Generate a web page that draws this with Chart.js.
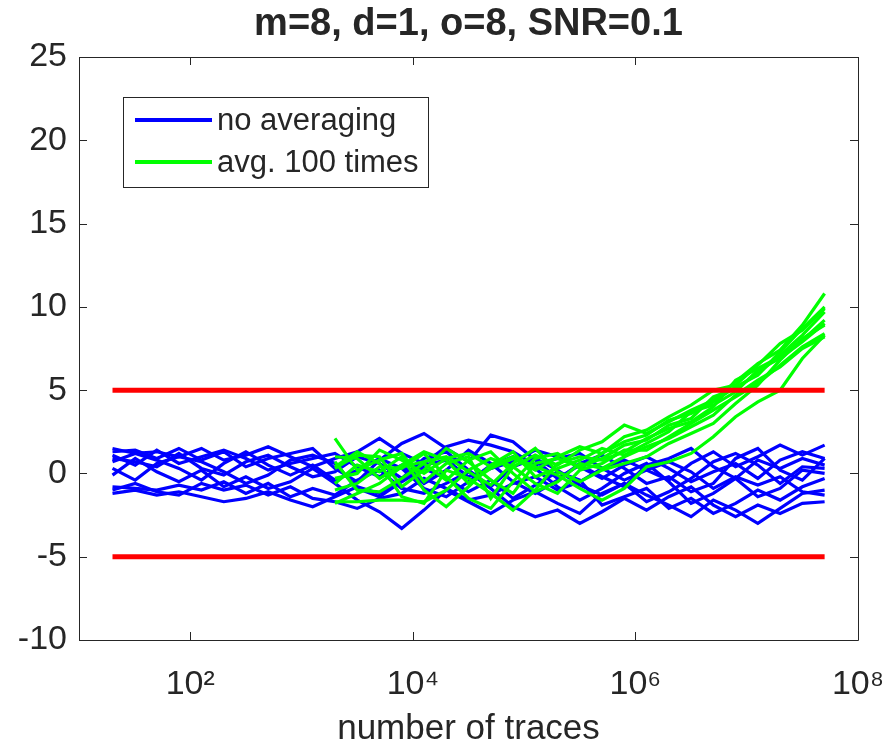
<!DOCTYPE html>
<html>
<head>
<meta charset="utf-8">
<script src="https://cdn.jsdelivr.net/npm/chart.js@4.4.1/dist/chart.umd.min.js"></script>
<style>
  html, body { margin: 0; padding: 0; background: #ffffff; }
  #wrap { width: 889px; height: 750px; }
</style>
</head>
<body>
<div id="wrap"><canvas id="c" width="889" height="750"></canvas></div>
<script>
// ---------- data ----------
const chartTitle = 'm=8, d=1, o=8, SNR=0.1';
const xAxisTitle = 'number of traces';
const legendLabels = ['no averaging', 'avg. 100 times'];

const xTickValues = [1e2, 1e4, 1e6, 1e8];
const xTickLabels = ['10\u00B2', '10\u2074', '10\u2076', '10\u2078'];
const yTickStep = 5;

// number of traces (x) for the non-averaged runs
const traces = [20, 32, 50, 79, 126, 200, 316, 501, 794, 1259, 1995, 3162, 5012, 7943,
  12589, 19953, 31623, 50119, 79433, 125893, 199526, 316228, 501187, 794328, 1258925,
  1995262, 3162278, 5011872, 7943282, 12589254, 19952623, 31622777, 50118723];
// number of traces (x) for the averaged runs
const avgTraces = [1995, 3162, 5012, 7943, 12589, 19953, 31623, 50119, 79433, 125893,
  199526, 316228, 501187, 794328, 1258925, 1995262, 3162278, 5011872, 7943282, 12589254,
  19952623, 31622777, 50118723];

// no averaging (blue)
const blue1  = [1.5, 1.2, 1.3, 1.0, 1.5, 0.8, 1.1, 1.6, 1.0, 0.4, 0.9, 1.3, 2.1, 1.2, 0.6, 1.6, 2.0, 1.7, 1.3, 0.5, 0.9, 1.2, 0.3, 0.8, 0.2, -0.4, 0.6, 1.3, 0.4, 1.0, 1.7, 1.1, 1.7];
const blue2  = [1.3, 1.4, 0.9, 1.5, 0.8, 1.3, 0.4, 0.9, 1.2, 1.5, 0.3, -0.5, 0.8, 1.8, 2.4, 1.5, 0.7, 2.3, 1.9, 0.8, -0.3, 0.5, -0.2, -0.8, 0.5, 0.9, 1.5, 0.4, -0.3, 0.8, 0.3, 0.9, 0.5];
const blue3  = [1.1, 0.5, 1.4, 0.6, 1.0, 1.4, 0.9, 0.2, 0.6, 0.9, 1.2, 0.4, -0.2, 0.5, -0.6, 0.2, 1.4, 0.6, -0.5, -1.2, -0.4, 0.6, 1.1, 0.3, -0.6, -0.2, -1.1, -0.6, 0.9, 1.5, 0.2, -0.4, 0.9];
const blue4  = [0.9, 0.7, 0.4, 1.2, 0.3, -0.1, 0.7, 1.1, 0.4, -0.2, 0.1, 1.0, 0.6, -0.3, 0.9, 1.3, 0.2, -0.8, 0.4, 0.9, 0.2, -0.7, -1.3, -0.6, -1.7, -1.1, -0.3, 0.7, 1.2, 0.5, -0.6, 0.4, 0.3];
const blue5  = [0.7, 1.2, 0.8, 0.3, -0.4, 0.6, 1.3, 0.5, -0.1, 0.5, -0.4, 0.2, 0.9, 0.3, -0.9, -1.4, -0.5, 0.5, 1.0, 0.3, -0.8, -1.6, -0.9, 0.0, 0.6, -0.5, -1.8, -1.2, -0.3, -1.4, -0.9, 0.2, 0.0];
const blue6  = [0.3, -0.4, 0.6, 1.0, 0.7, 0.1, -0.6, -0.1, 0.8, 1.1, 0.6, -0.9, -1.4, -0.5, 0.3, -0.3, -1.1, -0.4, -1.5, -0.7, 0.1, -0.4, -1.9, -1.4, -0.9, -2.1, -1.5, -2.4, -1.8, -1.0, -1.6, -0.8, -0.3];
const blue7  = [-0.1, 0.9, 0.1, -0.5, 0.2, -0.8, -0.2, -0.9, -0.5, 0.3, -0.6, -1.6, -2.3, -3.3, -2.2, -1.0, -1.7, -2.4, -1.6, -1.1, -1.8, -2.4, -1.2, -0.6, -1.3, -1.9, -2.6, -1.6, -2.2, -3.0, -2.1, -1.2, -1.0];
const blue8  = [-0.8, -0.9, -1.0, -0.7, -1.0, -0.5, -1.2, -0.6, -1.4, -0.9, -1.3, -0.4, 0.2, -0.9, -1.2, -0.6, 0.1, -0.9, -2.0, -2.6, -2.2, -3.0, -2.3, -1.5, -2.2, -1.4, -0.8, -1.9, -2.6, -1.9, -2.4, -1.8, -1.7];
const blue9  = [-1.0, -0.6, -1.1, -1.3, -0.6, -1.0, -0.7, -1.3, -0.8, -1.5, -1.7, -2.1, -1.5, -1.2, -0.3, -0.9, -1.6, -1.3, -0.6, -0.2, -1.0, -0.5, 0.3, -0.4, 0.2, 0.7, 0.1, -0.9, -0.2, -0.7, -0.2, -1.1, -1.3];
const blue10 = [-1.2, -1.0, -1.3, -1.1, -1.4, -1.7, -1.5, -1.1, -1.6, -2.0, -1.4, -0.8, -1.2, -0.4, 0.5, 0.8, -0.2, 0.3, 0.7, 1.4, 1.0, 0.4, -0.3, 0.5, 1.0, 0.3, -0.5, 0.1, 0.6, -0.3, 0.8, 1.3, 0.9];

// averaged 100 times (green)
const green1  = [2.1, 0.2, 0.8, 1.2, -0.5, 0.6, 1.0, -1.5, 0.4, 1.1, 0.5, 1.4, 1.9, 2.9, 2.4, 3.1, 3.8, 4.4, 5.5, 6.6, 7.4, 8.9, 10.8];
const green2  = [1.0, 0.9, -0.3, 0.5, 1.3, 0.8, -0.6, 0.3, 0.9, 0.2, 1.0, 1.6, 1.2, 2.2, 2.6, 3.4, 4.1, 5.0, 5.3, 6.5, 7.8, 8.6, 9.9];
const green3  = [0.3, 1.1, 1.0, -0.8, 0.2, 1.5, 0.7, -0.4, -1.2, 0.6, 0.9, 0.4, 0.9, 1.7, 2.0, 2.9, 3.3, 4.6, 5.1, 6.0, 7.1, 8.3, 9.7];
const green4  = [-0.6, 0.5, 0.1, 1.0, -1.0, -2.0, -0.8, 0.5, 1.3, -0.2, 0.3, 0.8, 1.5, 1.1, 1.8, 2.5, 3.7, 4.1, 4.9, 6.2, 6.9, 7.9, 9.0];
const green5  = [-1.7, -1.7, -1.6, -1.6, -1.7, -1.0, 0.2, 0.9, 0.4, -0.6, -1.2, 0.2, 0.6, 1.4, 1.4, 2.2, 3.0, 3.8, 4.6, 5.4, 6.5, 7.6, 8.4];
const green6  = [-1.0, -0.6, 0.4, 0.3, 1.2, -0.2, -1.5, -2.1, -0.5, 0.9, 1.2, 0.3, 1.2, 1.9, 2.3, 3.2, 3.6, 4.3, 5.2, 5.9, 7.3, 8.7, 10.0];
const green7  = [0.7, -1.0, -1.1, -0.3, 0.6, -0.4, 0.8, 1.3, 0.0, -1.1, -0.5, 0.6, 0.3, 1.0, 1.6, 2.1, 2.8, 3.5, 4.7, 5.6, 6.4, 7.5, 8.2];
const green8  = [0.4, 1.3, 0.6, -1.4, -1.8, 0.2, -0.3, -1.2, -2.2, -1.0, 0.6, 1.0, 0.8, 1.3, 2.1, 2.7, 3.1, 4.0, 5.6, 6.3, 7.0, 8.0, 9.2];
const green9  = [-0.3, 0.0, 1.4, 0.8, 0.0, 0.9, 1.2, 0.4, 1.0, 0.4, -0.1, -0.9, -1.6, -0.9, 0.4, 0.7, 1.2, 2.2, 3.4, 4.3, 5.0, 6.9, 8.3];
const green10 = [-1.8, -1.2, -0.6, 0.4, 0.7, 1.0, 0.1, -0.7, 0.6, 1.5, 0.1, -0.5, 0.2, 0.6, 1.0, 1.8, 2.4, 3.0, 4.2, 5.3, 6.8, 8.1, 8.9];

// threshold lines (red)
const thresholdX = [20, 50118723];
const upperThreshold = [5, 5];
const lowerThreshold = [-5, -5];

const blueSeries = [blue1, blue2, blue3, blue4, blue5, blue6, blue7, blue8, blue9, blue10];
const greenSeries = [green1, green2, green3, green4, green5, green6, green7, green8, green9, green10];

// ---------- styles ----------
const BLUE = '#0000ff', GREEN = '#00ff00', RED = '#ff0000';
const TXT = '#262626', AXIS = '#262626';
const FONT = "'Liberation Sans', Arial, Helvetica, 'DejaVu Sans', sans-serif";

function pts(xs, ys) { return ys.map((y, i) => ({ x: xs[i], y: y })); }

const datasets = [];
blueSeries.forEach((s, i) => datasets.push({
  label: i === 0 ? legendLabels[0] : '', inLegend: i === 0,
  data: pts(traces, s), borderColor: BLUE, borderWidth: 3.2, pointRadius: 0,
  tension: 0, fill: false, order: 2
}));
greenSeries.forEach((s, i) => datasets.push({
  label: i === 0 ? legendLabels[1] : '', inLegend: i === 0,
  data: pts(avgTraces, s), borderColor: GREEN, borderWidth: 3.2, pointRadius: 0,
  tension: 0, fill: false, order: 1
}));
[upperThreshold, lowerThreshold].forEach(s => datasets.push({
  label: '', inLegend: false,
  data: pts(thresholdX, s), borderColor: RED, borderWidth: 5, pointRadius: 0,
  tension: 0, fill: false, order: 0, borderCapStyle: 'butt'
}));

// box + inward ticks (MATLAB style)
const boxPlugin = {
  id: 'boxPlugin',
  afterDraw(chart) {
    const { ctx, chartArea: a, scales } = chart;
    const L = 8;
    ctx.save();
    ctx.strokeStyle = AXIS;
    ctx.lineWidth = 1;
    ctx.beginPath();
    ctx.rect(Math.round(a.left) + 0.5, Math.round(a.top) + 0.5,
             Math.round(a.right - a.left), Math.round(a.bottom - a.top));
    ctx.stroke();
    ctx.beginPath();
    scales.x.ticks.forEach(t => {
      const px = Math.round(scales.x.getPixelForValue(t.value)) + 0.5;
      ctx.moveTo(px, a.bottom); ctx.lineTo(px, a.bottom - L);
      ctx.moveTo(px, a.top); ctx.lineTo(px, a.top + L);
    });
    scales.y.ticks.forEach(t => {
      const py = Math.round(scales.y.getPixelForValue(t.value)) + 0.5;
      ctx.moveTo(a.left, py); ctx.lineTo(a.left + L, py);
      ctx.moveTo(a.right, py); ctx.lineTo(a.right - L, py);
    });
    ctx.stroke();
    ctx.restore();
  }
};

// legend box inside the axes (top-left)
const legendPlugin = {
  id: 'boxLegend',
  afterDraw(chart) {
    const { ctx, chartArea: a } = chart;
    const items = chart.data.datasets.filter(d => d.inLegend);
    const x0 = a.left + 44, y0 = a.top + 40, w = 305, h = 90;
    ctx.save();
    ctx.fillStyle = '#ffffff';
    ctx.fillRect(x0, y0, w, h);
    ctx.strokeStyle = '#262626';
    ctx.lineWidth = 1;
    ctx.strokeRect(x0 + 0.5, y0 + 0.5, w, h);
    ctx.font = "31px " + FONT;
    ctx.textBaseline = 'middle';
    items.forEach((d, i) => {
      const y = y0 + 23 + i * 42;
      ctx.strokeStyle = d.borderColor;
      ctx.lineWidth = 4;
      ctx.beginPath();
      ctx.moveTo(x0 + 12, y); ctx.lineTo(x0 + 89, y);
      ctx.stroke();
      ctx.fillStyle = TXT;
      ctx.fillText(d.label, x0 + 94, y + 1);
    });
    ctx.restore();
  }
};

new Chart(document.getElementById('c'), {
  type: 'line',
  data: { datasets },
  options: {
    responsive: false,
    animation: false,
    devicePixelRatio: 1,
    layout: { padding: { left: 0, right: 31, top: 0, bottom: 0 } },
    plugins: {
      legend: { display: false },
      tooltip: { enabled: false },
      title: {
        display: true, text: chartTitle, color: TXT, fullSize: false,
        font: { family: FONT, size: 38, weight: 'bold', lineHeight: 1.2 },
        padding: { top: 2, bottom: 9.4 }
      }
    },
    scales: {
      x: {
        type: 'logarithmic', min: 10, max: 1e8,
        grid: { display: false, drawTicks: false },
        border: { display: false },
        afterBuildTicks: s => { s.ticks = xTickValues.map(v => ({ value: v })); },
        afterFit: s => { s.height = 110; s.paddingLeft = 0; s.paddingRight = 0; },
        ticks: {
          autoSkip: false, maxRotation: 0, minRotation: 0, padding: 24, color: TXT,
          font: { family: FONT, size: 34 },
          callback: v => { const i = xTickValues.indexOf(v); return i >= 0 ? xTickLabels[i] : ''; }
        },
        title: {
          display: true, text: xAxisTitle, color: TXT,
          font: { family: FONT, size: 35 }, padding: { top: 0, bottom: 0 }
        }
      },
      y: {
        min: -10, max: 25,
        grid: { display: false, drawTicks: false },
        border: { display: false },
        afterFit: s => { s.width = 79; s.paddingTop = 0; s.paddingBottom = 0; },
        ticks: { stepSize: yTickStep, padding: 12, color: TXT, font: { family: FONT, size: 34 } }
      }
    }
  },
  plugins: [boxPlugin, legendPlugin]
});
</script>
</body>
</html>
